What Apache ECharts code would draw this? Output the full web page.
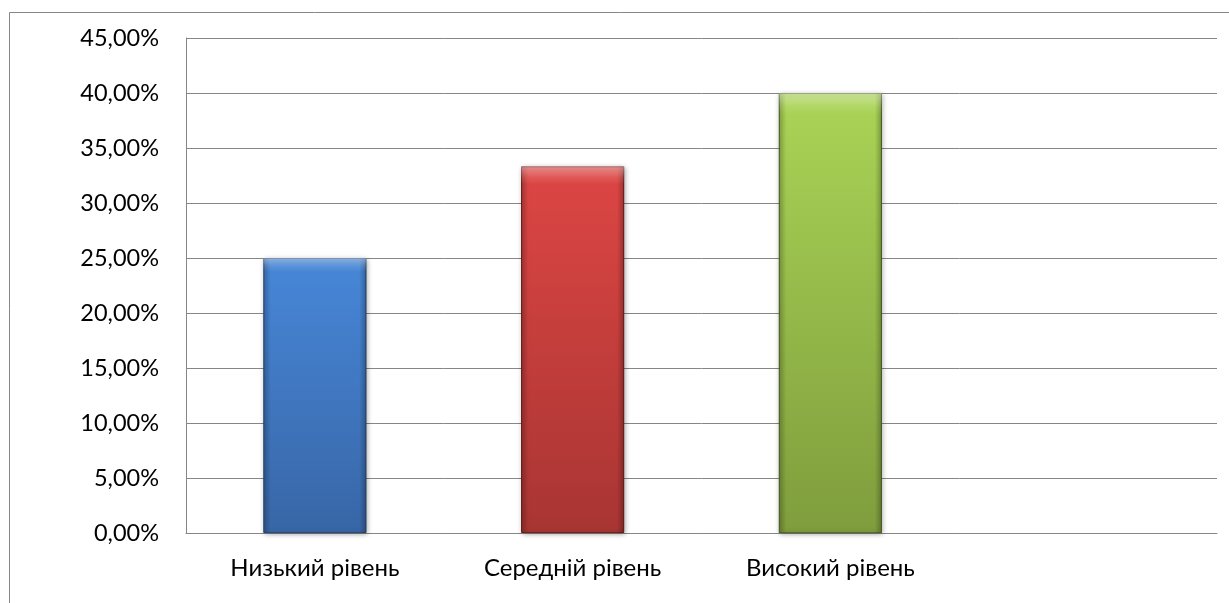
<!DOCTYPE html>
<html>
<head>
<meta charset="utf-8">
<script src="https://cdn.jsdelivr.net/npm/echarts@6/dist/echarts.min.js"></script>
<style>
  html, body { margin: 0; padding: 0; background: #ffffff; }
  #chart { width: 1229px; height: 603px; }
</style>
</head>
<body>
<div id="chart"></div>
<script>
// Categories (the last slot is empty, as in the source workbook)
const categories = ['Низький рівень', 'Середній рівень', 'Високий рівень', ''];
// Share of respondents per level, in percent
const values = [25.0, 33.33, 40.0, null];
// Value axis range and step, percent
const axisMin = 0;
const axisMax = 45;
const axisStep = 5;

// Fill palette per bar: [top, bottom, edge]
const palette = [
  ['#4787d8', '#3866a6', '#2a4d7e'],
  ['#dd4644', '#a83533', '#761f1e'],
  ['#aad456', '#7f9d3d', '#566e28']
];

function grad(c) {
  return new echarts.graphic.LinearGradient(0, 0, 0, 1, [
    { offset: 0, color: c[0] },
    { offset: 1, color: c[1] }
  ]);
}

const barData = values.map((v, i) => {
  if (v === null) return null;
  const c = palette[i];
  return {
    value: v,
    itemStyle: {
      color: grad(c),
      borderColor: c[2],
      borderWidth: 1,
      shadowColor: 'rgba(0,0,0,0.35)',
      shadowBlur: 5,
      shadowOffsetX: 1,
      shadowOffsetY: 1
    }
  };
});

// Overlay layers on the same values: darker side edges and a light top strip (bevel look)
const edgeData = values.slice();

const labelFont = 'Lato, "Open Sans", sans-serif';

const chart = echarts.init(document.getElementById('chart'), null, { renderer: 'canvas' });
chart.setOption({
  animation: false,
  backgroundColor: '#ffffff',
  graphic: [{
    type: 'rect',
    shape: { x: 9.5, y: 12.5, width: 1400, height: 800 },
    style: { fill: 'none', stroke: '#868686', lineWidth: 1 },
    silent: true,
    z: -10
  }],
  grid: { left: 186, right: 12, top: 38, bottom: 70, containLabel: false },
  xAxis: {
    type: 'category',
    data: categories,
    axisLine: { show: true, lineStyle: { color: '#868686', width: 1 } },
    axisTick: { show: false },
    axisLabel: {
      color: '#000000',
      fontFamily: labelFont,
      fontSize: 24,
      margin: 23
    }
  },
  yAxis: {
    type: 'value',
    min: axisMin,
    max: axisMax,
    interval: axisStep,
    axisLine: { show: true, lineStyle: { color: '#868686', width: 1 } },
    axisTick: { show: false },
    splitLine: { show: true, lineStyle: { color: '#868686', width: 1 } },
    axisLabel: {
      color: '#000000',
      fontFamily: labelFont,
      fontSize: 23.5,
      margin: 27,
      formatter: v => v.toFixed(2).replace('.', ',') + '%'
    }
  },
  series: [
    {
      type: 'bar',
      data: barData,
      barWidth: '40%',
      z: 2
    },
    {
      type: 'bar',
      data: edgeData,
      barWidth: '40%',
      barGap: '-100%',
      silent: true,
      z: 3,
      itemStyle: {
        color: new echarts.graphic.LinearGradient(0, 0, 1, 0, [
          { offset: 0, color: 'rgba(0,0,0,0.2)' },
          { offset: 0.07, color: 'rgba(0,0,0,0.0)' },
          { offset: 0.93, color: 'rgba(0,0,0,0.0)' },
          { offset: 1, color: 'rgba(0,0,0,0.24)' }
        ])
      }
    },
    {
      type: 'bar',
      data: edgeData,
      barWidth: '40%',
      barGap: '-100%',
      silent: true,
      z: 4,
      itemStyle: {
        color: new echarts.graphic.LinearGradient(0, 0, 0, 1, [
          { offset: 0, color: 'rgba(255,255,255,0.4)' },
          { offset: 0.03, color: 'rgba(255,255,255,0.1)' },
          { offset: 0.05, color: 'rgba(255,255,255,0.0)' },
          { offset: 1, color: 'rgba(255,255,255,0.0)' }
        ])
      }
    }
  ]
});
</script>
</body>
</html>
